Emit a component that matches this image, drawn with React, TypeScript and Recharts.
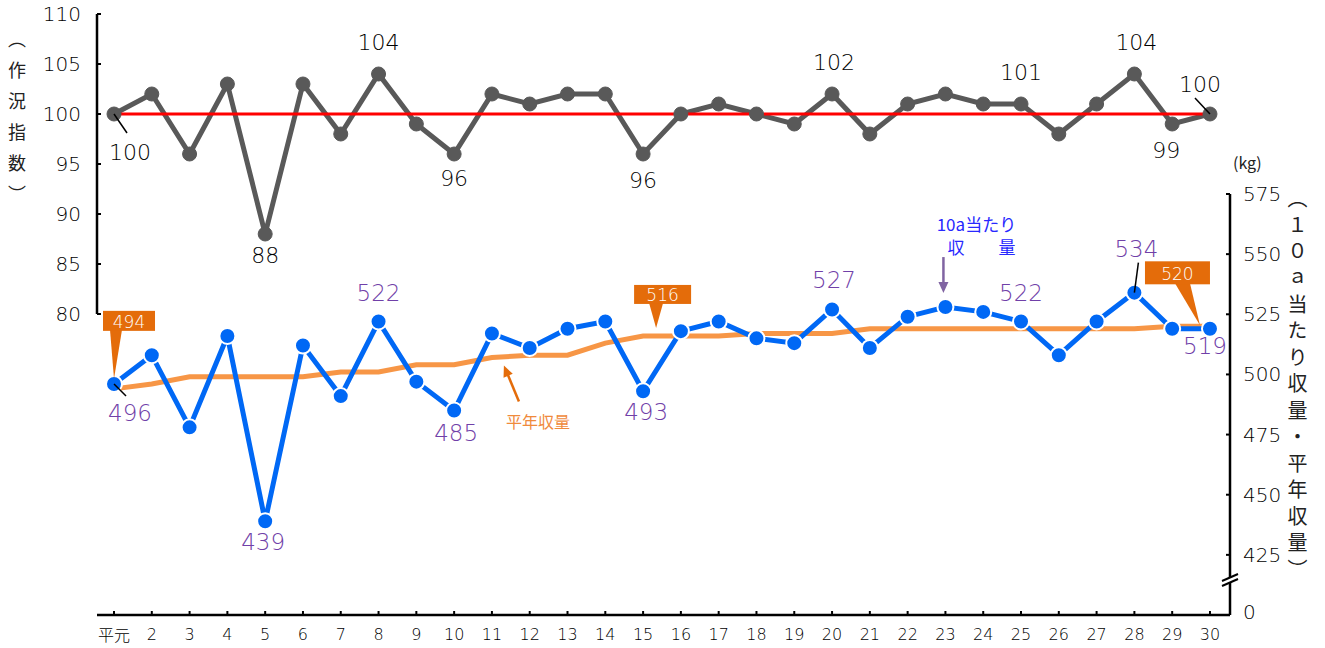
import React from "react";
import { ComposedChart, Line, XAxis, YAxis, ReferenceLine, LabelList } from "recharts";

const years = ["平元", "2", "3", "4", "5", "6", "7", "8", "9", "10", "11", "12", "13", "14", "15",
  "16", "17", "18", "19", "20", "21", "22", "23", "24", "25", "26", "27", "28", "29", "30"];

// 作況指数
const sakkyo = [100, 102, 96, 103, 88, 103, 98, 104, 99, 96, 102, 101, 102, 102, 96,
  100, 101, 100, 99, 102, 98, 101, 102, 101, 101, 98, 101, 104, 99, 100];

// 10a当たり収量 (kg)
const shukaku = [496, 508, 478, 516, 439, 512, 491, 522, 497, 485, 517, 511, 519, 522, 493,
  518, 522, 515, 513, 527, 511, 524, 528, 526, 522, 508, 522, 534, 519, 519];

// 平年収量 (kg)
const heinen = [494, 496, 499, 499, 499, 499, 501, 501, 504, 504, 507, 508, 508, 513, 516,
  516, 516, 517, 517, 517, 519, 519, 519, 519, 519, 519, 519, 519, 520, 520];

const indexTicks = [80, 85, 90, 95, 100, 105, 110];
const yieldTicks = [400, 425, 450, 475, 500, 525, 550, 575];

const FONT = '"Noto Sans CJK JP", "Noto Sans", sans-serif';
const NUM_FONT = '"DejaVu Sans", "Noto Sans CJK JP", sans-serif';
const X_DOMAIN: [number, number] = [0.55, 30.53];
const xTicks = years.map((_, i) => i + 1);

const indexData = years.map((_, i) => ({ x: i + 1, v: sakkyo[i] }));
const yieldData = years.map((_, i) => ({ x: i + 1, y: shukaku[i], n: heinen[i] }));

// label placement (offsets from the point)
const indexPlace: Record<number, { dx: number; dy: number; leader?: number[] }> = {
  0: { dx: 16, dy: 38, leader: [0, 0, 13, 19] },
  4: { dx: 0, dy: 21 },
  7: { dx: 0, dy: -32 },
  9: { dx: 0, dy: 24 },
  14: { dx: 0, dy: 26 },
  19: { dx: 2, dy: -32 },
  24: { dx: 0, dy: -32 },
  27: { dx: 2, dy: -32 },
  28: { dx: -6, dy: 26 },
  29: { dx: -10, dy: -30, leader: [0, 0, -15, -16] },
};

const yieldPlace: Record<number, { dx: number; dy: number; leader?: number[] }> = {
  0: { dx: 16, dy: 29, leader: [0, 0, 12, 12] },
  4: { dx: -2, dy: 21 },
  7: { dx: 0, dy: -29 },
  9: { dx: 2, dy: 22 },
  14: { dx: 3, dy: 21 },
  19: { dx: 2, dy: -29 },
  24: { dx: 0, dy: -29 },
  27: { dx: 2, dy: -44, leader: [0, 0, 4, -30] },
  29: { dx: -5, dy: 17 },
};

// orange callout boxes for 平年収量
const calloutPlace: Record<number, { tipDx: number; tipDy: number; bx: number; by: number; bw: number; bh: number; t1: number; t2: number }> = {
  0: { tipDx: 0, tipDy: -10, bx: -11, by: -78, bw: 52, bh: 20, t1: -4, t2: 8 },
  14: { tipDx: 13, tipDy: -8, bx: -9, by: -51, bw: 57, bh: 19, t1: 6, t2: 20 },
  29: { tipDx: -10, tipDy: -1, bx: -65, by: -65, bw: 65, bh: 23, t1: -35, t2: -20 },
};

const GRAY = "#595959";
const BLUE = "#0068F5";
const ORANGE = "#F79646";
const DARK_ORANGE = "#E46C0A";
const PURPLE = "#7040A8";

function arrowHead(x1: number, y1: number, x2: number, y2: number, len: number, half: number) {
  const dx = x2 - x1, dy = y2 - y1;
  const d = Math.sqrt(dx * dx + dy * dy);
  const ux = dx / d, uy = dy / d;
  const bx = x2 - ux * len, by = y2 - uy * len;
  return `${x2},${y2} ${bx - uy * half},${by + ux * half} ${bx + uy * half},${by - ux * half}`;
}

function IndexLabel(props: any) {
  const { x, y, value, index } = props;
  const p = indexPlace[index];
  if (!p) return null;
  return (
    <g>
      {p.leader && (
        <line x1={x + p.leader[0]} y1={y + p.leader[1]} x2={x + p.leader[2]} y2={y + p.leader[3]} stroke="#000" strokeWidth={1.5} />
      )}
      <text x={x + p.dx} y={y + p.dy} textAnchor="middle" dominantBaseline="central" fontSize={22} fontWeight={300} fill="#000" fontFamily={NUM_FONT}>
        {value}
      </text>
    </g>
  );
}

function YieldLabel(props: any) {
  const { x, y, value, index } = props;
  const p = yieldPlace[index];
  const extra =
    index === 22 ? (
      <g fontFamily={FONT}>
        <line x1={x - 2} y1={y - 50} x2={x - 2} y2={y - 24} stroke="#8064A2" strokeWidth={2.5} />
        <polygon points={arrowHead(x - 2, y - 50, x - 2, y - 14, 11, 5)} fill="#8064A2" />
        <text x={x + 31} y={y - 84} textAnchor="middle" dominantBaseline="central" fontSize={17} fill="#2828FF">10a当たり</text>
        <text x={x + 36} y={y - 61} textAnchor="middle" dominantBaseline="central" fontSize={17} fill="#2828FF">収　　量</text>
      </g>
    ) : null;
  if (!p) return extra;
  return (
    <g>
      {p.leader && (
        <line x1={x + p.leader[0]} y1={y + p.leader[1]} x2={x + p.leader[2]} y2={y + p.leader[3]} stroke="#000" strokeWidth={1.5} />
      )}
      <text x={x + p.dx} y={y + p.dy} textAnchor="middle" dominantBaseline="central" fontSize={23} fontWeight={300} fill={PURPLE} fontFamily={NUM_FONT}>
        {value}
      </text>
    </g>
  );
}

function NormalLabel(props: any) {
  const { x, y, value, index } = props;
  const c = calloutPlace[index];
  if (index === 10) {
    // 平年収量 arrow annotation
    return (
      <g>
        <line x1={x + 27} y1={y + 44} x2={x + 15} y2={y + 15} stroke={DARK_ORANGE} strokeWidth={2.5} />
        <polygon points={arrowHead(x + 27, y + 44, x + 12, y + 8, 11, 5)} fill={DARK_ORANGE} />
        <text x={x + 46} y={y + 63} textAnchor="middle" dominantBaseline="central" fontSize={16} fill="#F08A3C" fontFamily={FONT}>
          平年収量
        </text>
      </g>
    );
  }
  if (!c) return null;
  const tx = x + c.tipDx, ty = y + c.tipDy;
  const bx = x + c.bx, by = y + c.by;
  return (
    <g>
      <polygon points={`${x + c.t1},${by + c.bh - 1} ${x + c.t2},${by + c.bh - 1} ${tx},${ty}`} fill={DARK_ORANGE} />
      <rect x={bx} y={by} width={c.bw} height={c.bh} fill={DARK_ORANGE} />
      <text x={bx + c.bw / 2} y={by + c.bh / 2 + 1} textAnchor="middle" dominantBaseline="central" fontSize={17} fontWeight={300} fill="#fff" fontFamily={NUM_FONT}>
        {value}
      </text>
    </g>
  );
}

function LeftTick(props: any) {
  const { x, y, payload } = props;
  const ax = x + 16;
  return (
    <g>
      <line x1={ax} y1={y} x2={ax + 4} y2={y} stroke="#000" strokeWidth={2} />
      <text x={x} y={y} textAnchor="end" dominantBaseline="central" fontSize={20} fontWeight={300} fill="#000" fontFamily={NUM_FONT}>
        {payload.value}
      </text>
    </g>
  );
}

function RightTick(props: any) {
  const { x, y, payload } = props;
  const ax = x - 13;
  const isZero = payload.value === 400;
  return (
    <g>
      {!isZero && <line x1={ax} y1={y} x2={ax - 4} y2={y} stroke="#000" strokeWidth={2} />}
      {isZero && (
        <g>
          <polygon points={`${ax - 8},${y - 34} ${ax + 8},${y - 41} ${ax + 8},${y - 36} ${ax - 8},${y - 29}`} fill="#fff" />
          <line x1={ax - 8} y1={y - 34} x2={ax + 8} y2={y - 41} stroke="#000" strokeWidth={2} />
          <line x1={ax - 8} y1={y - 29} x2={ax + 8} y2={y - 36} stroke="#000" strokeWidth={2} />
        </g>
      )}
      <text x={x} y={isZero ? y - 3 : y} textAnchor="start" dominantBaseline="central" fontSize={20} fontWeight={300} fill="#000" fontFamily={NUM_FONT}>
        {isZero ? "0" : payload.value}
      </text>
    </g>
  );
}

function BottomTick(props: any) {
  const { x, y, payload } = props;
  const ay = y - 10;
  return (
    <g>
      <line x1={x} y1={ay} x2={x} y2={ay - 4} stroke="#000" strokeWidth={2} />
      <text x={x} y={ay + 19} textAnchor="middle" dominantBaseline="central" fontSize={16} fontWeight={300} fill="#000" fontFamily={payload.value === 1 ? FONT : NUM_FONT}>
        {years[payload.value - 1]}
      </text>
    </g>
  );
}

export default function App() {
  return (
    <div style={{ position: "absolute", left: 0, top: 0, width: 1325, height: 648, background: "#fff", fontFamily: FONT }}>
      {/* 作況指数 */}
      <div style={{ position: "absolute", left: 0, top: 0 }}>
        <ComposedChart width={1325} height={648} data={indexData} margin={{ top: 14, right: 95, bottom: 334, left: 37 }}>
          <XAxis dataKey="x" type="number" domain={X_DOMAIN} ticks={xTicks} hide />
          <YAxis
            domain={[80, 110]}
            ticks={indexTicks}
            width={60}
            tickSize={0}
            tickMargin={16}
            tickLine={false}
            axisLine={{ stroke: "#000", strokeWidth: 2.5 }}
            tick={<LeftTick />}
            interval={0}
          />
          <Line dataKey="v" stroke={GRAY} strokeWidth={5} dot={{ r: 7, fill: GRAY, stroke: GRAY, strokeWidth: 1 }} isAnimationActive={false}>
            <LabelList dataKey="v" content={<IndexLabel />} />
          </Line>
          <ReferenceLine segment={[{ x: 1, y: 100 }, { x: 30, y: 100 }]} stroke="#FF0000" strokeWidth={3} />
        </ComposedChart>
      </div>

      {/* 10a当たり収量・平年収量 */}
      <div style={{ position: "absolute", left: 0, top: 0 }}>
        <ComposedChart width={1325} height={648} data={yieldData} margin={{ top: 194, right: 35, bottom: 5, left: 97 }}>
          <XAxis
            dataKey="x"
            type="number"
            domain={X_DOMAIN}
            ticks={xTicks}
            interval={0}
            height={28}
            tickSize={0}
            tickMargin={10}
            tickLine={false}
            axisLine={{ stroke: "#000", strokeWidth: 2.5 }}
            tick={<BottomTick />}
          />
          <YAxis
            orientation="right"
            domain={[400, 575]}
            ticks={yieldTicks}
            interval={0}
            width={60}
            tickSize={0}
            tickMargin={13}
            tickLine={false}
            axisLine={{ stroke: "#000", strokeWidth: 2.5 }}
            tick={<RightTick />}
          />
          <Line dataKey="n" stroke={ORANGE} strokeWidth={5} dot={false} isAnimationActive={false}>
            <LabelList dataKey="n" content={<NormalLabel />} />
          </Line>
          <Line
            dataKey="y"
            stroke={BLUE}
            strokeWidth={5}
            dot={{ r: 8, fill: BLUE, stroke: "#fff", strokeWidth: 2 }}
            isAnimationActive={false}
          >
            <LabelList dataKey="y" content={<YieldLabel />} />
          </Line>
        </ComposedChart>
      </div>

      {/* axis titles */}
      <div style={{ position: "absolute", left: 8, top: 30, writingMode: "vertical-rl", fontSize: 18, letterSpacing: 13, color: "#222", lineHeight: 1 }}>
        （作況指数）
      </div>
      <div style={{ position: "absolute", left: 1287, top: 188, writingMode: "vertical-rl", fontSize: 20, letterSpacing: 6.5, color: "#222", lineHeight: 1 }}>
        （１０ａ当たり収量・平年収量）
      </div>
      <div style={{ position: "absolute", left: 1233, top: 150, fontSize: 16, color: "#222" }}>(kg)</div>
    </div>
  );
}
